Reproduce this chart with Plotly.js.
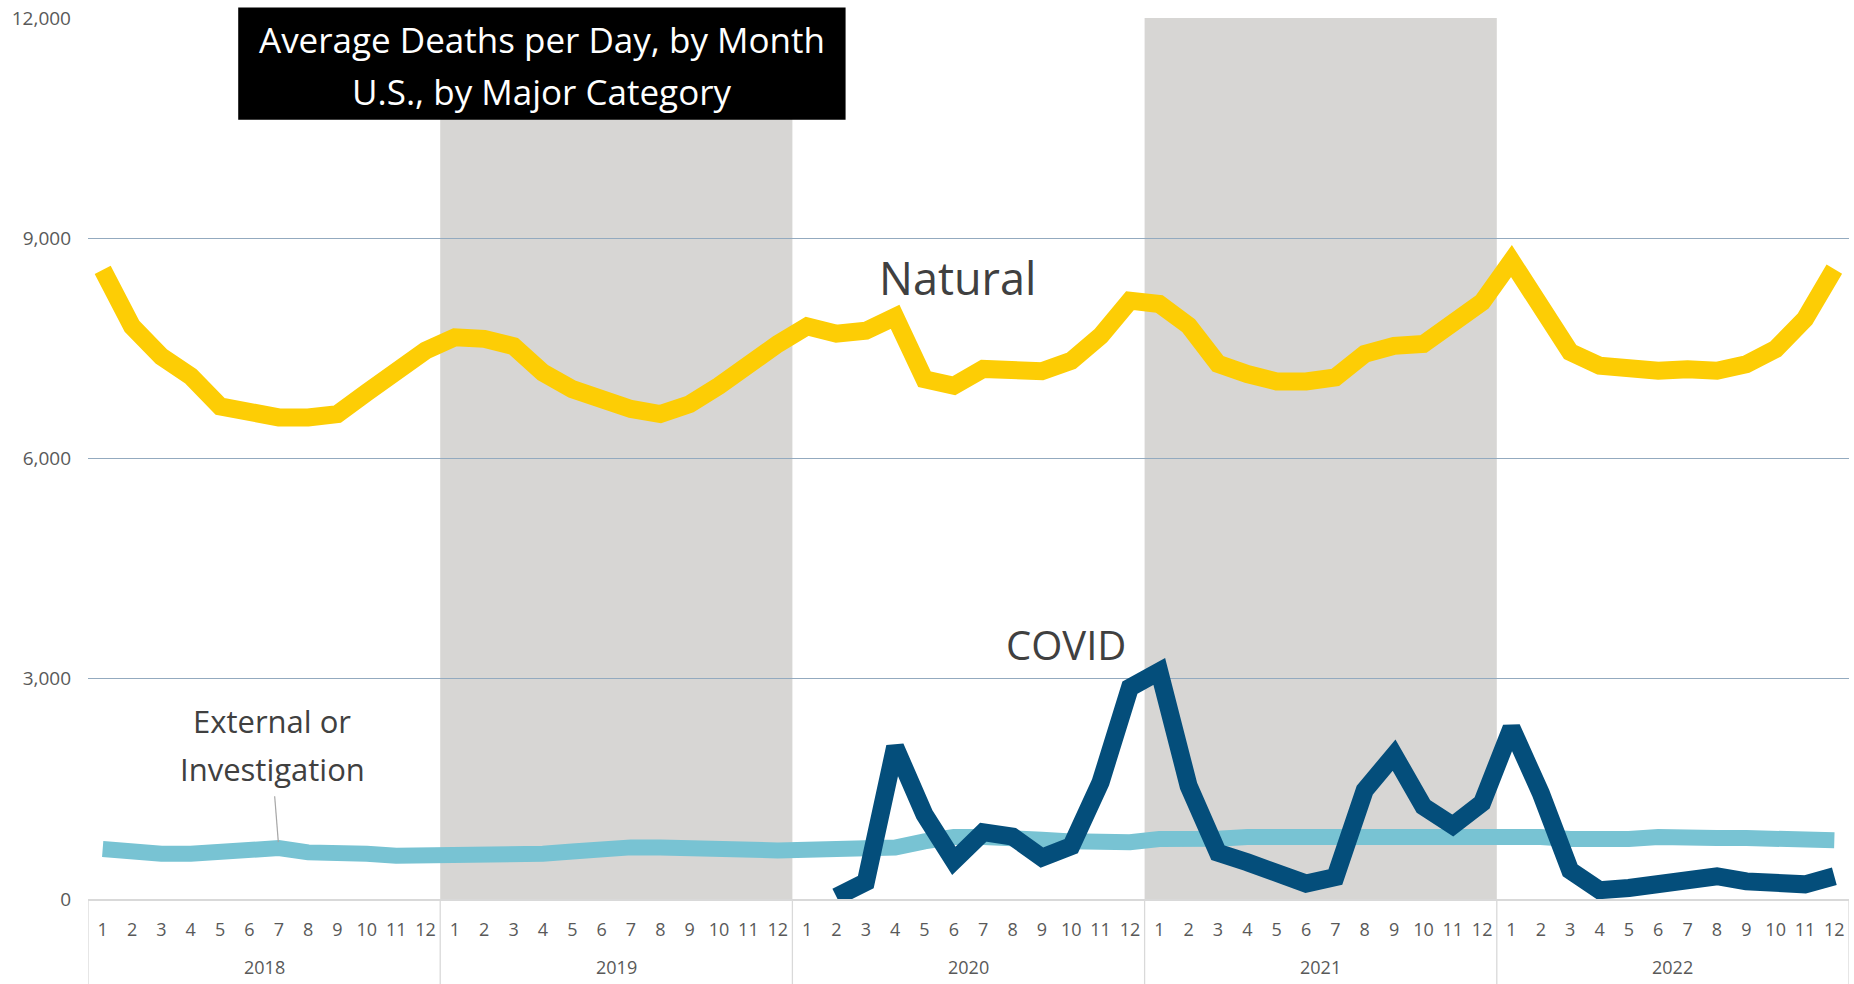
<!DOCTYPE html>
<html>
<head>
<meta charset="utf-8">
<script src="https://cdn.plot.ly/plotly-3.0.1.min.js"></script>
<style>html,body{margin:0;padding:0;background:#fff;}#chart{width:1854px;height:984px;}</style>
</head>
<body>
<div id="chart"></div>
<script>
// ---- data ----
const years = ['2018', '2019', '2020', '2021', '2022'];
const monthLabels = ['1','2','3','4','5','6','7','8','9','10','11','12'];

const natural = [
  8570, 7800, 7390, 7120, 6710, 6630, 6560, 6560, 6605, 6900, 7170, 7470,
  7650, 7630, 7530, 7170, 6945, 6810, 6675, 6605, 6740, 6990, 7290, 7560,
  7800, 7700, 7740, 7930, 7080, 6990, 7220, 7215, 7190, 7330, 7670, 8150,
  8105, 7810, 7290, 7150, 7050, 7050, 7105, 7425, 7535, 7560, 7830, 8130,
  8690, 8010, 7450, 7265, 7215, 7195, 7215, 7195, 7285, 7490, 7900, 8580
];
const covid = [
  null, null, null, null, null, null, null, null, null, null, null, null,
  null, null, null, null, null, null, null, null, null, null, null, null,
  null, 30, 230, 2070, 1150, 520, 910, 850, 565, 720, 1590, 2880,
  3100, 1540, 630, 500, 380, 210, 300, 1480, 1960, 1260, 1000, 1310,
  2330, 1440, 390, 120, 150, 210, 300, 310, 240, 190, 200, 310
];
const external = [
  680, 625, 616, 616, 635, 703, 694, 635, 648, 616, 589, 589,
  616, 625, 635, 616, 648, 694, 703, 703, 680, 662, 662, 662,
  671, 694, 694, 700, 785, 845, 845, 845, 808, 785, 776, 772,
  817, 808, 822, 845, 845, 877, 877, 877, 877, 854, 831, 831,
  840, 845, 817, 799, 817, 845, 863, 831, 831, 817, 799, 799
];
const shadedYears = ['2019', '2021'];
const seriesNames = ['Natural', 'COVID', 'External or Investigation'];

// ---- derived category positions ----
const nM = monthLabels.length;
const xIdx = [];
const tickText = [];
years.forEach((y, yi) => monthLabels.forEach((m, mi) => { xIdx.push(yi * nM + mi); tickText.push(m); }));

const FONT = 'Open Sans, Noto Sans, sans-serif';
const TXT = '#595959';

const lineStyle = (c, w) => ({color: c, width: w, shape: 'linear'});

const traces = [
  {x: xIdx, y: external, name: seriesNames[2], mode: 'lines', line: lineStyle('#78C3D3', 16), hoverinfo: 'y'},
  {x: xIdx, y: natural, name: seriesNames[0], mode: 'lines', line: lineStyle('#FDCD05', 18), hoverinfo: 'y'},
  {x: xIdx, y: covid, name: seriesNames[1], mode: 'lines', line: lineStyle('#044E7B', 18), hoverinfo: 'y', connectgaps: false}
];

const shapes = [];
// shaded year bands
years.forEach((y, yi) => {
  if (shadedYears.includes(y)) {
    shapes.push({type: 'rect', layer: 'below', xref: 'x', yref: 'paper',
      x0: yi * nM - 0.5, x1: (yi + 1) * nM - 0.5, y0: 0, y1: 1,
      fillcolor: '#D7D6D4', line: {width: 0}});
  }
});
// year dividers below the axis
for (let yi = 0; yi <= years.length; yi++) {
  shapes.push({type: 'line', layer: 'above', xref: 'x', yref: 'paper',
    x0: yi * nM - 0.5, x1: yi * nM - 0.5, y0: 0, y1: -0.12,
    line: {color: '#D9D9D9', width: 1.3}});
}
// title box
shapes.push({type: 'rect', layer: 'above', xref: 'paper', yref: 'paper',
  x0: 0.0853, x1: 0.4302, y0: 0.8846, y1: 1.012, fillcolor: '#000000', line: {width: 0}});
// leader line for External label
shapes.push({type: 'line', layer: 'above', xref: 'x', yref: 'y',
  x0: 5.86, y0: 1400, x1: 5.985, y1: 775, line: {color: '#A6A6A6', width: 1.2}});

const annotations = [];
years.forEach((y, yi) => {
  annotations.push({text: y, xref: 'x', yref: 'paper', x: yi * nM + (nM - 1) / 2, y: -0.0776,
    showarrow: false, yanchor: 'middle', xanchor: 'center', font: {family: FONT, size: 18, color: TXT}});
});
annotations.push({text: 'Average Deaths per Day, by Month', xref: 'paper', yref: 'paper', x: 0.2577, y: 1 - (39 - 17.7) / 880.9,
  showarrow: false, yanchor: 'middle', xanchor: 'center', font: {family: FONT, size: 35, color: '#ffffff'}});
annotations.push({text: 'U.S., by Major Category', xref: 'paper', yref: 'paper', x: 0.2577, y: 1 - (91 - 17.7) / 880.9,
  showarrow: false, yanchor: 'middle', xanchor: 'center', font: {family: FONT, size: 35, color: '#ffffff'}});
annotations.push({text: seriesNames[0], xref: 'paper', yref: 'paper', x: (957.7 - 87.5) / 1761.8, y: (898.6 - 276.7) / 880.9,
  showarrow: false, yanchor: 'middle', xanchor: 'center', font: {family: FONT, size: 45, color: '#404040'}});
annotations.push({text: seriesNames[1], xref: 'paper', yref: 'paper', x: (1065.5 - 87.5) / 1761.8, y: (898.6 - 644) / 880.9,
  showarrow: false, yanchor: 'middle', xanchor: 'center', font: {family: FONT, size: 40, color: '#404040'}});
annotations.push({text: 'External or', xref: 'paper', yref: 'paper', x: (272 - 87.5) / 1761.8, y: (898.6 - 721) / 880.9,
  showarrow: false, yanchor: 'middle', xanchor: 'center', font: {family: FONT, size: 31, color: '#404040'}});
annotations.push({text: 'Investigation', xref: 'paper', yref: 'paper', x: (272 - 87.5) / 1761.8, y: (898.6 - 769) / 880.9,
  showarrow: false, yanchor: 'middle', xanchor: 'center', font: {family: FONT, size: 31, color: '#404040'}});

const layout = {
  width: 1854, height: 984,
  margin: {l: 87.5, r: 4.7, t: 17.7, b: 85.4},
  paper_bgcolor: '#ffffff', plot_bgcolor: '#ffffff',
  showlegend: false,
  font: {family: FONT, color: TXT},
  xaxis: {
    range: [-0.5, xIdx.length - 0.5], tickmode: 'array', tickvals: xIdx, ticktext: tickText,
    showgrid: false, zeroline: false, showline: true, linecolor: '#D9D9D9', linewidth: 1.5,
    ticks: '', ticklabelstandoff: 14, tickfont: {family: FONT, size: 18, color: TXT}, fixedrange: true
  },
  yaxis: {
    range: [0, 12000], tickvals: [0, 3000, 6000, 9000, 12000], tickformat: ',',
    showgrid: true, gridcolor: '#93AABF', gridwidth: 1, zeroline: false, showline: false,
    ticks: '', ticklabelstandoff: 16, tickfont: {family: FONT, size: 19, color: TXT}, fixedrange: true
  },
  shapes: shapes,
  annotations: annotations
};

Plotly.newPlot('chart', traces, layout, {displayModeBar: false, staticPlot: true});
</script>
</body>
</html>
